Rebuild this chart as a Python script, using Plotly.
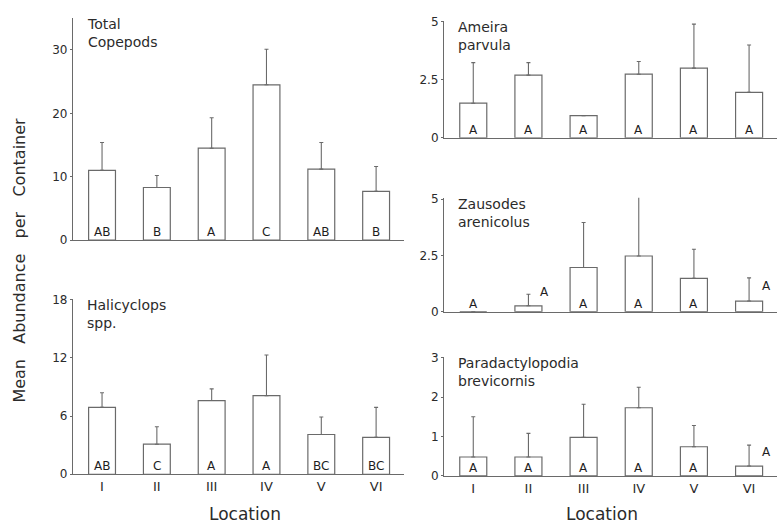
import plotly.graph_objects as go

# Sampling locations along the transect
locations = ["I", "II", "III", "IV", "V", "VI"]

# Mean abundance per container and upper error (SE) for each taxon
total_mean = [11.0, 8.3, 14.5, 24.5, 11.2, 7.7]
total_err = [4.4, 1.9, 4.8, 5.6, 4.2, 3.9]
total_groups = ["AB", "B", "A", "C", "AB", "B"]

hali_mean = [6.9, 3.1, 7.6, 8.1, 4.1, 3.8]
hali_err = [1.5, 1.8, 1.2, 4.2, 1.8, 3.1]
hali_groups = ["AB", "C", "A", "A", "BC", "BC"]

ameira_mean = [1.49, 2.70, 0.95, 2.74, 3.00, 1.96]
ameira_err = [1.75, 0.54, 0.0, 0.55, 1.90, 2.04]
ameira_groups = ["A", "A", "A", "A", "A", "A"]

zaus_mean = [0.0, 0.26, 1.96, 2.47, 1.48, 0.47]
zaus_err = [0.0, 0.51, 2.00, 2.66, 1.29, 1.03]
zaus_groups = ["A", "A", "A", "A", "A", "A"]

para_mean = [0.48, 0.48, 0.98, 1.73, 0.74, 0.25]
para_err = [1.02, 0.60, 0.84, 0.52, 0.54, 0.53]
para_groups = ["A", "A", "A", "A", "A", "A"]

y_ticks_total = [0, 10, 20, 30]
y_ticks_hali = [0, 6, 12, 18]
y_ticks_ameira = [0, 2.5, 5]
y_ticks_zaus = [0, 2.5, 5]
y_ticks_para = [0, 1, 2, 3]

FONT = "DejaVu Sans"
INK = "#2b2b2b"
LINE = "#6a6a6a"

# (title lines, means, errors, groups, ticks, y-range, axis suffix, x-domain, y-domain)
panels = [
    (["Total", "Copepods"], total_mean, total_err, total_groups, y_ticks_total,
     [0, 35], "", [0.0937, 0.518], [0.5489, 0.9765]),
    (["Halicyclops", "spp."], hali_mean, hali_err, hali_groups, y_ticks_hali,
     [0, 18.1], "2", [0.0937, 0.518], [0.0977, 0.4361]),
    (["Ameira", "parvula"], ameira_mean, ameira_err, ameira_groups, y_ticks_ameira,
     [0, 5.05], "3", [0.570, 0.997], [0.7462, 0.9718]),
    (["Zausodes", "arenicolus"], zaus_mean, zaus_err, zaus_groups, y_ticks_zaus,
     [0, 5.05], "4", [0.570, 0.997], [0.4111, 0.6303]),
    (["Paradactylopodia", "brevicornis"], para_mean, para_err, para_groups, y_ticks_para,
     [0, 3.03], "5", [0.570, 0.997], [0.0946, 0.3246]),
]

# Group letters that sit beside a bar rather than inside it: (panel, bar) -> (dx, dy) px
label_offsets = {
    (3, 1): (16, 12),
    (3, 5): (17, 18),
    (4, 5): (17, 16),
}

fig = go.Figure()
annotations = []
layout = {}

for p, (title, mean, err, groups, ticks, yrange, sfx, xdom, ydom) in enumerate(panels):
    xa, ya = "x" + sfx, "y" + sfx
    fig.add_trace(go.Bar(
        x=locations, y=mean, xaxis=xa, yaxis=ya, width=0.49,
        marker=dict(color="white", line=dict(color=LINE, width=1.2)),
        error_y=dict(type="data", symmetric=False, array=err,
                     arrayminus=[0] * len(err), color=LINE, thickness=1.1, width=2),
        showlegend=False, hoverinfo="x+y",
    ))
    bottom_row = sfx in ("2", "5")
    layout["xaxis" + sfx] = dict(
        domain=xdom, anchor=ya, type="category", range=[-0.53, 5.5],
        showline=True, linecolor=LINE, linewidth=1.2, ticks="",
        showticklabels=bottom_row, showgrid=False, zeroline=False,
        tickfont=dict(family=FONT, size=13, color=INK),
    )
    layout["yaxis" + sfx] = dict(
        domain=ydom, anchor=xa, range=yrange, tickvals=ticks,
        ticktext=[f"{t:g}" for t in ticks],
        showline=True, linecolor=LINE, linewidth=1.2, ticks="outside",
        ticklen=2, tickcolor=LINE, showgrid=False, zeroline=False,
        tickfont=dict(family=FONT, size=12, color=INK),
    )
    # taxon name in the upper-left corner of the panel
    annotations.append(dict(
        xref=xa + " domain", yref=ya + " domain", x=0.035, y=1.0,
        xanchor="left", yanchor="top", align="left", showarrow=False,
        text="<br>".join(title), yshift=4,
        font=dict(family=FONT, size=14, color=INK),
    ))
    # significance group letters
    for i, g in enumerate(groups):
        dx, dy = label_offsets.get((p, i), (0, 0))
        annotations.append(dict(
            xref=xa, yref=ya, x=locations[i], y=0, xanchor="center",
            yanchor="bottom", showarrow=False, text=g, xshift=dx, yshift=-1 + dy,
            font=dict(family=FONT, size=12, color="#1e1e1e"),
        ))

# shared axis titles
sp = "\u00a0\u00a0\u00a0"
annotations.append(dict(
    xref="paper", yref="paper", x=20 / 779, y=1 - 261 / 532, showarrow=False,
    text=f"Mean{sp}Abundance{sp}per{sp}Container", textangle=-90,
    xanchor="center", yanchor="middle",
    font=dict(family=FONT, size=16, color=INK),
))
for cx in (245, 602):
    annotations.append(dict(
        xref="paper", yref="paper", x=cx / 779, y=1 - 521 / 532, showarrow=False,
        text="Location", xanchor="center", yanchor="middle",
        font=dict(family=FONT, size=17, color=INK),
    ))

fig.update_layout(
    width=779, height=532, margin=dict(l=0, r=0, t=0, b=0),
    paper_bgcolor="white", plot_bgcolor="white",
    annotations=annotations, bargap=0.5, **layout,
)

fig.write_html("out.html")
